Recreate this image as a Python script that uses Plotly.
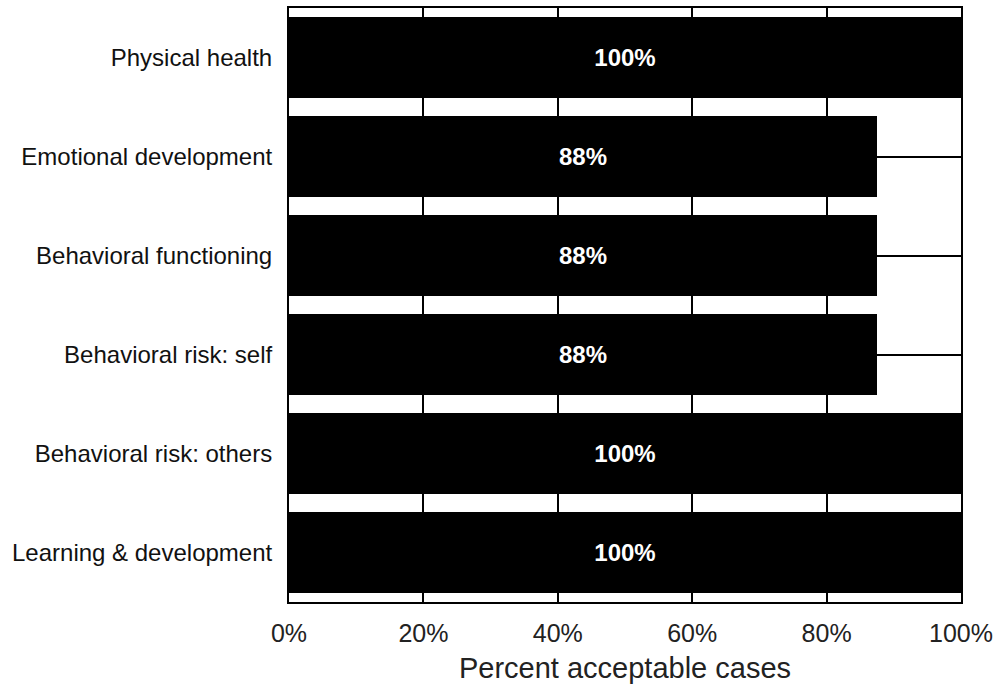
import plotly.graph_objects as go

# Domains reviewed, top to bottom
domains = [
    "Physical health",
    "Emotional development",
    "Behavioral functioning",
    "Behavioral risk: self",
    "Behavioral risk: others",
    "Learning & development",
]
# Share of acceptable cases per domain (%)
acceptable_pct = [100, 87.5, 87.5, 87.5, 100, 100]

tick_vals = [0, 20, 40, 60, 80, 100]
tick_text = ["0%", "20%", "40%", "60%", "80%", "100%"]

FONT = "Arial, Liberation Sans, sans-serif"

fig = go.Figure(
    go.Bar(
        x=acceptable_pct,
        y=domains,
        orientation="h",
        marker=dict(color="black", line=dict(width=0)),
        texttemplate="<b>%{x:.0f}%</b>",
        textposition="inside",
        insidetextanchor="middle",
        textfont=dict(color="white", size=24, family=FONT),
        hoverinfo="skip",
    )
)

fig.update_layout(
    width=995,
    height=689,
    margin=dict(l=289, r=34, t=8, b=87),
    paper_bgcolor="white",
    plot_bgcolor="white",
    bargap=0.18,
    showlegend=False,
    font=dict(family=FONT, color="black"),
)

fig.update_xaxes(
    range=[0, 100],
    tickvals=tick_vals,
    ticktext=tick_text,
    tickfont=dict(size=25, color="#222"),
    ticks="",
    ticklabelstandoff=8,
    showgrid=True,
    gridcolor="black",
    gridwidth=1.5,
    showline=True,
    linecolor="black",
    linewidth=2,
    mirror=True,
    zeroline=False,
    automargin=False,
    title=dict(text="Percent acceptable cases", font=dict(size=29, color="#222"), standoff=12),
)

fig.update_yaxes(
    categoryorder="array",
    categoryarray=domains,
    autorange="reversed",
    tickfont=dict(size=24, color="#111"),
    ticks="",
    ticklabelstandoff=10,
    showgrid=True,
    gridcolor="black",
    gridwidth=1.5,
    showline=True,
    linecolor="black",
    linewidth=2,
    mirror=True,
    zeroline=False,
    automargin=False,
)

fig.write_html("out.html")
